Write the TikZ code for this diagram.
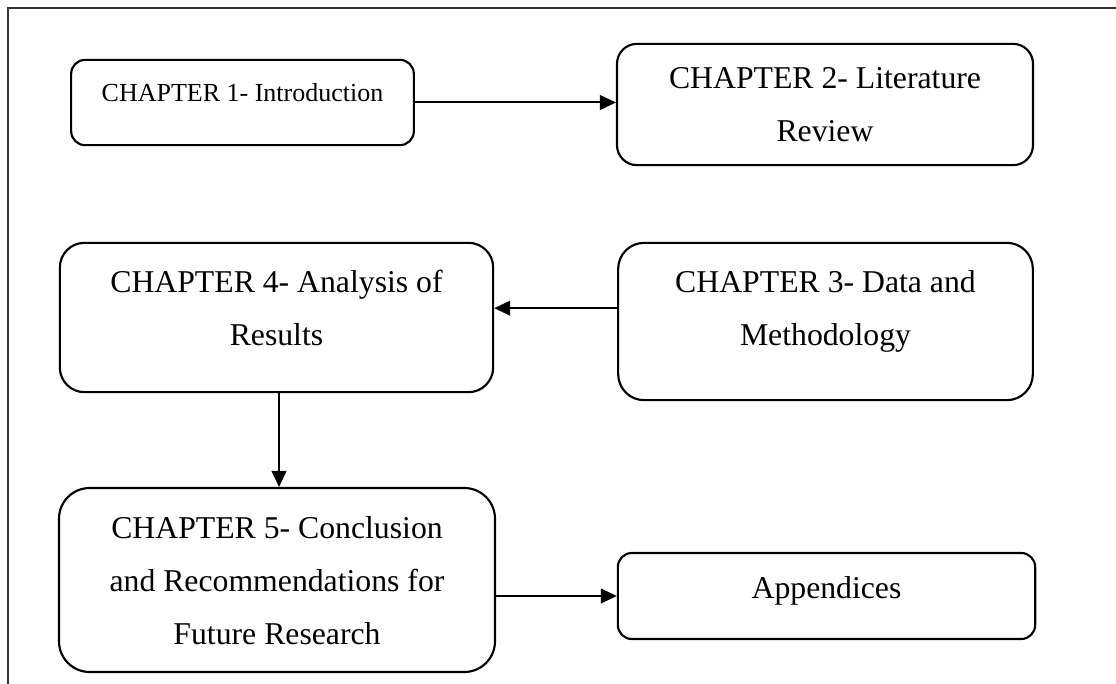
\documentclass[tikz,border=0pt]{standalone}
\usepackage{fontspec}
\setmainfont{Liberation Serif}
\usepackage{tikz}
\usetikzlibrary{arrows.meta}
\tikzset{>={Triangle[length=12pt,width=11pt]}}
\tikzset{chapbox/.style={draw,line width=1.6pt,align=center,inner sep=0pt,
    font=\fontsize{23.8}{39.75}\selectfont}}

\begin{document}
\begin{tikzpicture}[x=0.75pt,y=-0.75pt]
                    \useasboundingbox (0,0) rectangle (1116,684);
                    \draw[line width=1.2pt,black!80] (1116,8)--(8,8)--(8,684);
                    \node[chapbox,rounded corners=10.5pt,minimum width=257pt,minimum height=64pt,text depth=15pt,
                        font=\fontsize{19.5}{32}\selectfont] (ch1) at (242.5,102.5) {CHAPTER 1- Introduction};
                    \node[chapbox,rounded corners=15pt,minimum width=312pt,minimum height=91pt,text depth=0pt]
                        (ch2) at (825,104.5) {CHAPTER 2- Literature\\Review};
                    \node[chapbox,rounded corners=18.5pt,minimum width=325pt,minimum height=112pt,text depth=14pt]
                        (ch4) at (276.5,317.5) {CHAPTER 4- Analysis of\\Results};
                    \node[chapbox,rounded corners=19.5pt,minimum width=311pt,minimum height=118pt,text depth=20pt]
                        (ch3) at (825.5,321.5) {CHAPTER 3- Data and\\Methodology};
                    \node[chapbox,rounded corners=23pt,minimum width=327pt,minimum height=138pt,text depth=0pt]
                        (ch5) at (277,580) {CHAPTER 5- Conclusion\\and Recommendations for\\Future Research};
                    \node[chapbox,rounded corners=10.5pt,minimum width=313pt,minimum height=64.5pt,text depth=13.5pt]
                        (app) at (826.5,596) {Appendices};
                    \draw[->,line width=1.5pt](ch1.east)--(ch1.east -| ch2.west);
                    \draw[->,line width=1.5pt]([yshift=10pt]ch3.west)--([yshift=10pt]ch3.west -| ch4.east);
                    \draw[->,line width=1.5pt](ch4.south -| 279,0)--(ch5.north -| 279,0);
                    \draw[->,line width=1.5pt](app.west -| ch5.east)--(app.west);
                \end{tikzpicture}
\end{document}
